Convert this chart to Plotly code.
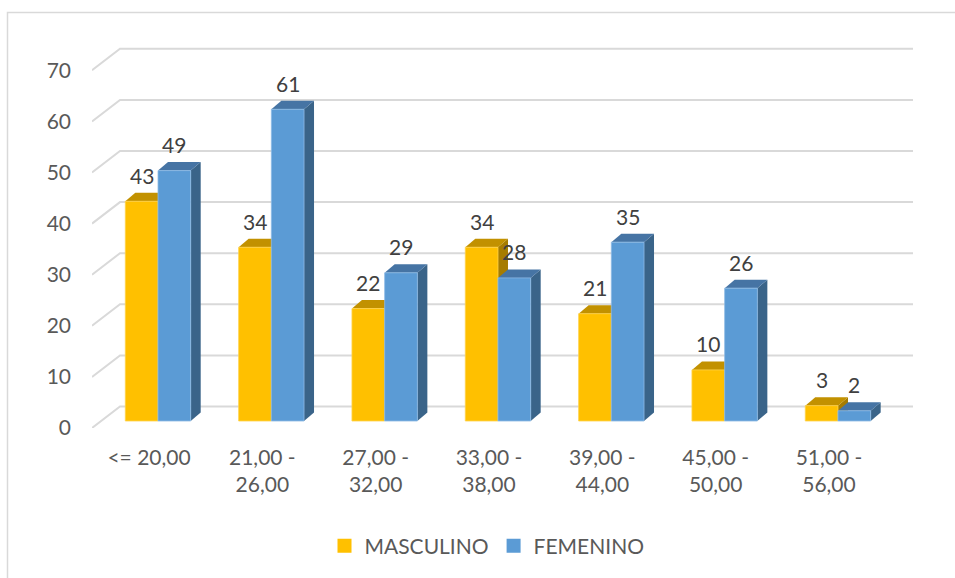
import plotly.graph_objects as go

# Age ranges and respondent counts by sex
categories = ["<= 20,00", "21,00 -<br>26,00", "27,00 -<br>32,00", "33,00 -<br>38,00",
              "39,00 -<br>44,00", "45,00 -<br>50,00", "51,00 -<br>56,00"]
series_names = ["MASCULINO", "FEMENINO"]
masculino = [43, 34, 22, 34, 21, 10, 3]
femenino = [49, 61, 29, 28, 35, 26, 2]
y_ticks = [0, 10, 20, 30, 40, 50, 60, 70]

values = [masculino, femenino]

# Face colours for the pseudo-3D columns: (front, top, side)
face_colors = [
    ("#FFC000", "#C29100", "#A67C00"),
    ("#5B9BD5", "#4674A4", "#3A6489"),
]
edge_colors = ["#FFD34D", "#8DBAE4"]

FONT = "Lato"
FS = 21

# Figure geometry (pixels)
W, H = 955, 578
ML, MR, MT, MB = 92, 40, 40, 150
plot_w = W - ML - MR
plot_h = H - MT - MB
px_per_cat = 113.33
px_per_unit = 5.11
first_cat_px = 57.0  # distance from left plot edge to the first category

x_min = -first_cat_px / px_per_cat
x_max = x_min + plot_w / px_per_cat
y_max = plot_h / px_per_unit

def dx(px):
    return px / px_per_cat

def dy(px):
    return px / px_per_unit

# depth offsets
wall_dx, wall_dy = dx(28), dy(21.5)       # floor front -> back wall
bar_off_x, bar_off_y = dx(9), dy(7)       # floor front -> column front face
col_dx, col_dy = dx(10), dy(8.5)          # column depth
col_w = dx(32.7)
wall_right = x_min + dx(913 - ML)

fig = go.Figure()

# Back-wall gridlines with the receding side-wall segment
for v in y_ticks:
    fig.add_trace(go.Scatter(
        x=[x_min, x_min + wall_dx, wall_right],
        y=[v, v + wall_dy, v + wall_dy],
        mode="lines", line=dict(color="#D9D9D9", width=2),
        hoverinfo="skip", showlegend=False, cliponaxis=False))

annotations = []

def poly(xs, ys, color, line_color=None):
    fig.add_trace(go.Scatter(
        x=xs + [xs[0]], y=ys + [ys[0]], mode="lines", fill="toself",
        fillcolor=color,
        line=dict(color=line_color or color, width=0.8 if line_color else 0),
        hoverinfo="skip", showlegend=False))

for i in range(len(categories)):
    for s, vals in enumerate(values):
        v = vals[i]
        front, top, side = face_colors[s]
        x0 = i + bar_off_x - col_w + s * col_w
        x1 = x0 + col_w
        y0 = bar_off_y
        y1 = y0 + v
        # side face
        poly([x1, x1 + col_dx, x1 + col_dx, x1],
             [y0, y0 + col_dy, y1 + col_dy, y1], side)
        # top face
        poly([x0, x1, x1 + col_dx, x0 + col_dx],
             [y1, y1, y1 + col_dy, y1 + col_dy], top)
        # front face
        poly([x0, x1, x1, x0], [y0, y0, y1, y1], front, edge_colors[s])
        annotations.append(dict(
            x=(x0 + x1) / 2, y=y1, xref="x", yref="y", text=str(v),
            showarrow=False, yanchor="middle", yshift=26,
            font=dict(family=FONT, size=FS, color="#404040")))

# Legend entries
for s, name in enumerate(series_names):
    fig.add_trace(go.Scatter(
        x=[None], y=[None], mode="markers", name=name,
        marker=dict(symbol="square", size=14, color=face_colors[s][0])))

fig.update_layout(
    width=W, height=H,
    margin=dict(l=ML, r=MR, t=MT, b=MB),
    paper_bgcolor="white", plot_bgcolor="white",
    font=dict(family=FONT, size=FS, color="#595959"),
    xaxis=dict(range=[x_min, x_max], tickmode="array",
               tickvals=list(range(len(categories))), ticktext=categories,
               showgrid=False, zeroline=False, showline=False, ticks="",
               ticklabelstandoff=15, fixedrange=True),
    yaxis=dict(range=[0, y_max], tickmode="array", tickvals=y_ticks,
               ticktext=[str(t) for t in y_ticks],
               showgrid=False, zeroline=False, showline=False, ticks="",
               ticklabelstandoff=20, fixedrange=True),
    legend=dict(orientation="h", x=(487 - ML) / plot_w, xanchor="center",
                y=-(546 - (H - MB)) / plot_h, yanchor="middle",
                font=dict(family=FONT, size=FS, color="#595959"),
                itemwidth=30, tracegroupgap=0),
    annotations=annotations,
    shapes=[dict(type="rect", xref="paper", yref="paper",
                 x0=(7.5 - ML) / plot_w, x1=(W + 10 - ML) / plot_w,
                 y0=-(H + 10 - (H - MB)) / plot_h, y1=((H - MB) - 12.5) / plot_h,
                 line=dict(color="#D9D9D9", width=1.5), layer="below")],
)

fig.write_html("out.html")
